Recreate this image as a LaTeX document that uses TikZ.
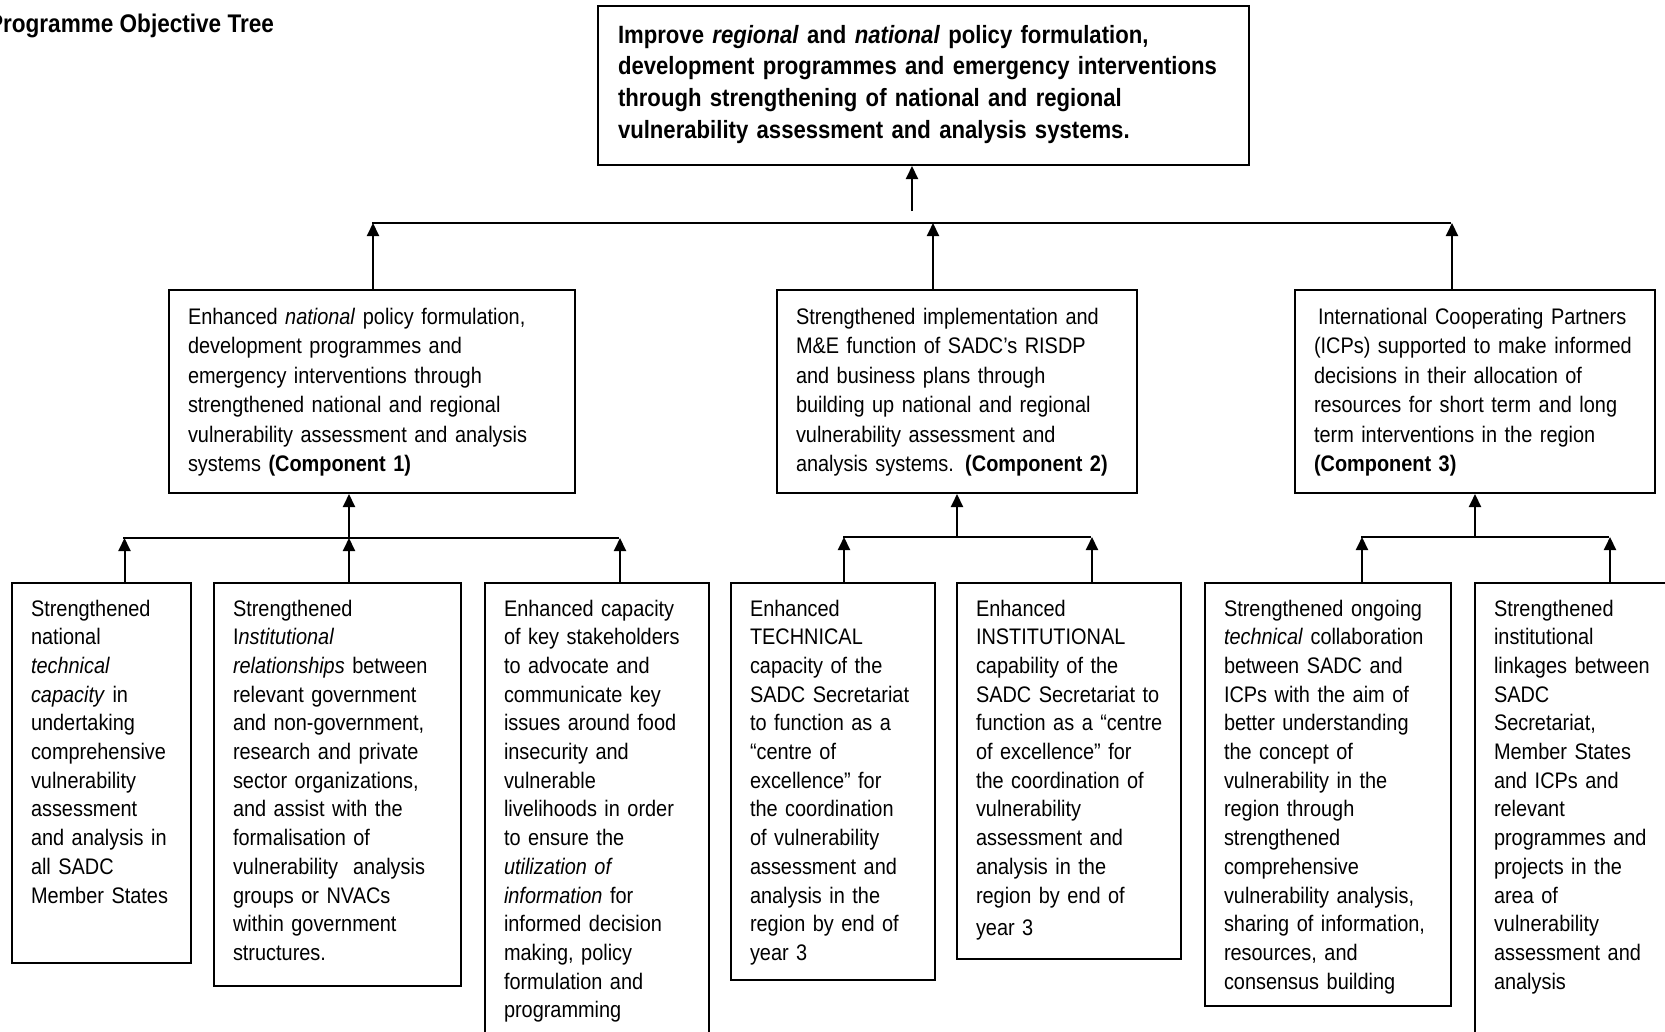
\documentclass[tikz,border=0pt]{standalone}
\usepackage{fontspec}
\setmainfont{Liberation Sans}[FakeStretch=0.885]
\usetikzlibrary{arrows.meta}

\tikzset{
  objbox/.style={draw, line width=2pt, anchor=north west, align=left,
    inner xsep=19pt, inner ysep=15pt, text height=18pt,
    font={\fontsize{22.5}{28.7}\selectfont\hyphenpenalty 10000\relax}},
  compbox/.style={objbox, text height=19pt, text depth=154pt,
    font={\fontsize{22.5}{29.5}\selectfont\hyphenpenalty 10000\relax}},
}

\begin{document}
\begin{tikzpicture}[x=1pt, y=-1pt, line width=2pt, >={Triangle[length=13pt,width=12pt]}]
      \useasboundingbox (0,0) rectangle (1665,1031);

      \node[anchor=base east, inner sep=0pt, font=\bfseries\fontsize{25.5}{30}\selectfont] (title) at (275,32) {Programme Objective Tree};

      % overall objective
      \node[objbox, text width=611pt, text depth=105pt, inner xsep=20pt, inner ysep=17pt, text height=20pt,
            font=\bfseries\fontsize{25}{31.9}\selectfont] (goal) at (597,5)
        {Improve \textit{regional} and \textit{national} policy formulation,\\
         development programmes and emergency interventions\\
         through strengthening of national and regional\\
         vulnerability assessment and analysis systems.};

      % components
      \node[compbox, text width=368pt] (comp1) at (168,289)
        {Enhanced \textit{national} policy formulation,\\
         development programmes and\\
         emergency interventions through\\
         strengthened national and regional\\
         vulnerability assessment and analysis\\
         systems \textbf{(Component 1)}};
      \node[compbox, text width=322pt] (comp2) at (776,289)
        {Strengthened implementation and\\
         M\&E function of SADC’s RISDP\\
         and business plans through\\
         building up national and regional\\
         vulnerability assessment and\\
         analysis systems. \textbf{(Component 2)}};
      \node[compbox, text width=322pt] (comp3) at (1294,289)
        {\hspace*{4pt}International Cooperating Partners\\
         (ICPs) supported to make informed\\
         decisions in their allocation of\\
         resources for short term and long\\
         term interventions in the region\\
         \textbf{(Component 3)}};

      % results
      \node[objbox, text width=141pt, text depth=332pt] (res1) at (11,582)
        {Strengthened\\ national\\ \textit{technical}\\ \textit{capacity} in\\ undertaking\\
         comprehensive\\ vulnerability\\ assessment\\ and analysis in\\ all SADC\\ Member States};
      \node[objbox, text width=209pt, text depth=355pt] (res2) at (213,582)
        {Strengthened\\ I\textit{nstitutional}\\ \textit{relationships} between\\ relevant government\\
         and non-government,\\ research and private\\ sector organizations,\\ and assist with the\\
         formalisation of\\ vulnerability~ analysis\\ groups or NVACs\\ within government\\ structures.};
      \node[objbox, text width=186pt, text depth=415pt] (res3) at (484,582)
        {Enhanced capacity\\ of key stakeholders\\ to advocate and\\ communicate key\\
         issues around food\\ insecurity and\\ vulnerable\\ livelihoods in order\\ to ensure the\\
         \textit{utilization of}\\ \textit{information} for\\ informed decision\\ making, policy\\
         formulation and\\ programming};
      \node[objbox, text width=166pt, text depth=349pt] (res4) at (730,582)
        {Enhanced\\ TECHNICAL\\ capacity of the\\ SADC Secretariat\\ to function as a\\
         “centre of\\ excellence” for\\ the coordination\\ of vulnerability\\ assessment and\\
         analysis in the\\ region by end of\\ year 3};
      \node[objbox, text width=186pt, text depth=328pt] (res5) at (956,582)
        {Enhanced\\ INSTITUTIONAL\\ capability of the\\ SADC Secretariat to\\ \mbox{function as a “centre}\\
         of excellence” for\\ the coordination of\\ vulnerability\\ assessment and\\
         analysis in the\\ region by end of\\[4pt] year 3};
      \node[objbox, text width=208pt, text depth=375pt] (res6) at (1204,582)
        {Strengthened ongoing\\ \textit{technical} collaboration\\ between SADC and\\ ICPs with the aim of\\
         better understanding\\ the concept of\\ vulnerability in the\\ region through\\ strengthened\\
         comprehensive\\ vulnerability analysis,\\ sharing of information,\\ resources, and\\
         consensus building};
      \node[objbox, text width=178pt, text depth=415pt] (res7) at (1474,582)
        {Strengthened\\ institutional\\ linkages between\\ SADC\\ Secretariat,\\ Member States\\
         and ICPs and\\ relevant\\ programmes and\\ projects in the\\ area of\\ vulnerability\\
         assessment and\\ analysis};

      % bars
      \coordinate (bw0) at (372,223);  \coordinate (be0) at (1451,223);
      \coordinate (bw1) at (123,538);  \coordinate (be1) at (619,538);
      \coordinate (bw2) at (843,537);  \coordinate (be2) at (1091,537);
      \coordinate (bw3) at (1361,537); \coordinate (be3) at (1609,537);
      \foreach \lvl in {0,1,2,3}
        \draw (bw\lvl) -- (be\lvl);

      % arrows
      \coordinate (g) at ([xshift=-11.5pt]goal.south);
      \draw[->] ([yshift=-45pt]g) -- (g);
      \foreach \n/\dx/\lvl in {comp1/1/0, comp2/-24/0, comp3/-23/0,
          res1/23/1, res2/11.5/1, res3/23/1, res4/11/2, res5/23/2, res6/34/3, res7/27/3} {
        \coordinate (up) at ([xshift=\dx pt]\n.north);
        \draw[->] (up) -- (up |- bw\lvl);
      }
      \foreach \n/\dx/\lvl in {comp1/-23/1, comp2/0/2, comp3/0/3} {
        \coordinate (dn) at ([xshift=\dx pt]\n.south);
        \draw[->] (dn |- bw\lvl) -- (dn);
      }
\end{tikzpicture}
\end{document}
